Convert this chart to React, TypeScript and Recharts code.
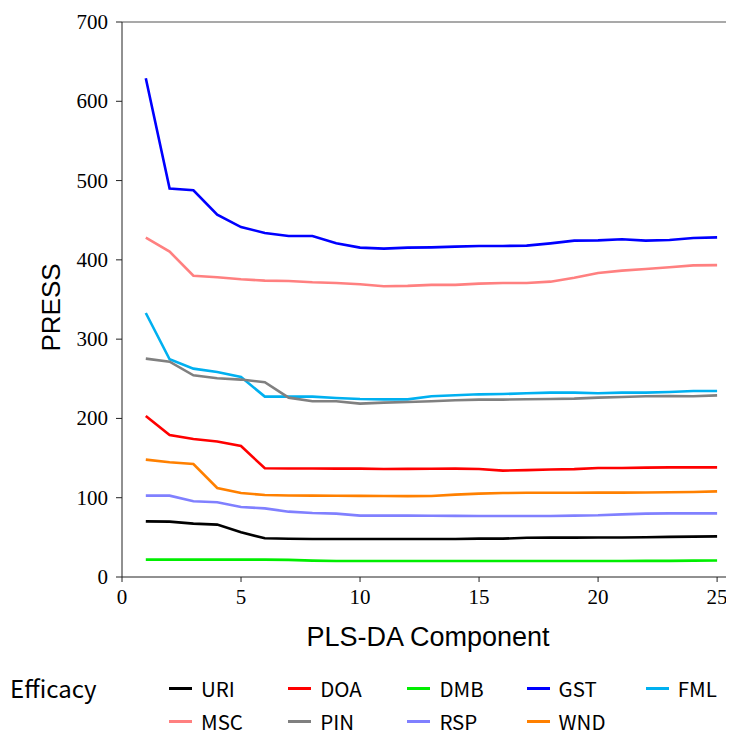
import React from 'react';
import { LineChart, Line, XAxis, YAxis, ReferenceLine, Legend } from 'recharts';

const components = [1, 2, 3, 4, 5, 6, 7, 8, 9, 10, 11, 12, 13, 14, 15, 16, 17, 18, 19, 20, 21, 22, 23, 24, 25];

const uri = [70.2, 69.8, 67.3, 66.1, 56.4, 48.8, 48.2, 48.0, 48.0, 47.9, 47.9, 47.9, 47.9, 48.0, 48.4, 48.4, 49.5, 49.7, 49.7, 49.8, 49.9, 50.2, 50.6, 50.9, 51.3];
const doa = [203.0, 179.0, 174.0, 170.8, 165.2, 137.1, 136.9, 136.8, 136.7, 136.7, 136.3, 136.4, 136.6, 136.7, 136.3, 134.2, 134.8, 135.6, 136.0, 137.5, 137.4, 137.9, 138.3, 138.3, 138.3];
const dmb = [21.9, 21.9, 21.9, 21.9, 21.9, 21.9, 21.6, 20.7, 20.2, 20.2, 20.2, 20.2, 20.2, 20.2, 20.2, 20.2, 20.2, 20.2, 20.2, 20.2, 20.2, 20.3, 20.4, 20.6, 20.9];
const gst = [629, 489.9, 487.7, 457, 441.4, 433.9, 430, 430, 421, 415.4, 414.2, 415.4, 415.8, 416.7, 417.5, 417.5, 418, 420.8, 424.2, 424.6, 425.9, 424.2, 425, 427.5, 428.4];
const fml = [333, 274.6, 262.8, 258.6, 252.2, 227.5, 227.5, 227.5, 225.8, 224.5, 224, 224, 228, 229.2, 230.4, 230.8, 231.7, 232.5, 232.5, 231.7, 232.5, 232.5, 233.3, 234.6, 234.6];
const msc = [428, 410.4, 380, 378, 375.5, 373.8, 373.4, 371.7, 370.8, 369.2, 366.7, 367.2, 368.5, 368.5, 370, 370.8, 370.8, 372.5, 377.5, 383.4, 386.4, 388.5, 390.6, 393, 393.3];
const pin = [275.4, 271.6, 254.4, 250.6, 249, 245.6, 226.2, 221.6, 221.6, 218.7, 219.9, 220.7, 221.6, 222.9, 223.7, 223.7, 224.1, 224.5, 225, 226.2, 227, 227.9, 228.3, 227.9, 229.1];
const rsp = [102.6, 102.6, 95.5, 94.2, 88.3, 86.6, 82.4, 80.7, 79.9, 77.4, 77.4, 77.4, 77.2, 77.1, 77.0, 77.0, 77.0, 77.0, 77.4, 77.8, 79.0, 79.9, 80.3, 80.3, 80.3];
const wnd = [148, 144.7, 142.5, 112.3, 106, 103.4, 102.8, 102.6, 102.5, 102.3, 102.2, 102.0, 102.2, 103.9, 105.1, 105.9, 106.3, 106.3, 106.3, 106.4, 106.4, 106.5, 106.8, 107.2, 108];

const seriesNames = ['URI', 'DOA', 'DMB', 'GST', 'FML', 'MSC', 'PIN', 'RSP', 'WND'];
const seriesValues = [uri, doa, dmb, gst, fml, msc, pin, rsp, wnd];
const seriesColors = ['#000000', '#ff0000', '#00ee00', '#0000ff', '#00b0f0', '#ff8080', '#808080', '#8080ff', '#ff8000'];

const xTicks = [0, 5, 10, 15, 20, 25];
const yTicks = [0, 100, 200, 300, 400, 500, 600, 700];

const legendTitle = 'Efficacy';
const xLabel = 'PLS-DA Component';
const yLabel = 'PRESS';

const data = components.map((c, i) => {
  const row: Record<string, number> = { component: c };
  seriesNames.forEach((n, k) => {
    row[n] = seriesValues[k][i];
  });
  return row;
});

const W = 726;
const H = 729;
const SERIF = '"Liberation Serif"';
const SANS = '"Liberation Sans"';

const LegendContent = () => {
  const colW = 119.2;
  const col0 = 161;
  const rows = [31, 64];
  return (
    <div style={{ position: 'relative', width: W, height: 74, fontFamily: '"Noto Sans CJK KR", "Noto Sans", sans-serif' }}>
      <div style={{ position: 'absolute', left: 2, top: rows[0] - 13, fontSize: 24, lineHeight: '26px', color: '#000' }}>{legendTitle}</div>
      {seriesNames.map((n, i) => {
        const r = Math.floor(i / 5);
        const c = i % 5;
        const left = col0 + c * colW;
        const cy = rows[r];
        return (
          <React.Fragment key={n}>
            <div style={{ position: 'absolute', left, top: cy - 1.5, width: 23, height: 3, background: seriesColors[i] }} />
            <div style={{ position: 'absolute', left: left + 32, top: cy - 10, fontSize: 20.5, lineHeight: '20px', color: '#000', whiteSpace: 'nowrap' }}>{n}</div>
          </React.Fragment>
        );
      })}
    </div>
  );
};

const XLabel = (props: any) => {
  const vb = props.viewBox || {};
  return (
    <text x={vb.x + vb.width / 2} y={vb.y + 69} textAnchor="middle" style={{ fontFamily: SANS, fontSize: 27 }} fill="#000">
      {xLabel}
    </text>
  );
};

const YLabel = (props: any) => {
  const vb = props.viewBox || {};
  const cx = 52;
  const cy = vb.y + vb.height / 2 + 8;
  return (
    <text x={cx} y={cy} transform={`rotate(-90, ${cx}, ${cy})`} textAnchor="middle" style={{ fontFamily: SANS, fontSize: 26 }} fill="#000">
      {yLabel}
    </text>
  );
};

const renderXTick = (props: any) => (
  <text x={props.x} y={props.y + 16} textAnchor="middle" fill="#000" style={{ fontFamily: SERIF, fontSize: 21 }}>
    {props.payload.value}
  </text>
);

const renderYTick = (props: any) => (
  <text x={props.x} y={props.y + 7} textAnchor="end" fill="#000" style={{ fontFamily: SERIF, fontSize: 21 }}>
    {props.payload.value}
  </text>
);

export default function App() {
  return (
    <div style={{ width: W, height: H }}>
      <LineChart width={W} height={H} data={data} margin={{ top: 14, right: 0, left: 0, bottom: 6 }}>
        <XAxis
          dataKey="component"
          type="number"
          domain={[0, 25.71]}
          ticks={xTicks}
          allowDataOverflow
          height={80}
          tickSize={5}
          tickMargin={6}
          tick={renderXTick}
          stroke="#222"
          label={<XLabel />}
        />
        <YAxis
          type="number"
          domain={[0, 700]}
          ticks={yTicks}
          width={114}
          tickSize={6}
          tickMargin={8}
          tick={renderYTick}
          stroke="#222"
          label={<YLabel />}
        />
        <ReferenceLine y={700} stroke="#555" strokeWidth={1.2} />
        {seriesNames.map((n, i) => (
          <Line
            key={n}
            dataKey={n}
            name={n}
            stroke={seriesColors[i]}
            strokeWidth={2.6}
            dot={false}
            type="linear"
            isAnimationActive={false}
          />
        ))}
        <Legend verticalAlign="bottom" content={<LegendContent />} wrapperStyle={{ left: 0, width: W, height: 74 }} />
      </LineChart>
    </div>
  );
}
